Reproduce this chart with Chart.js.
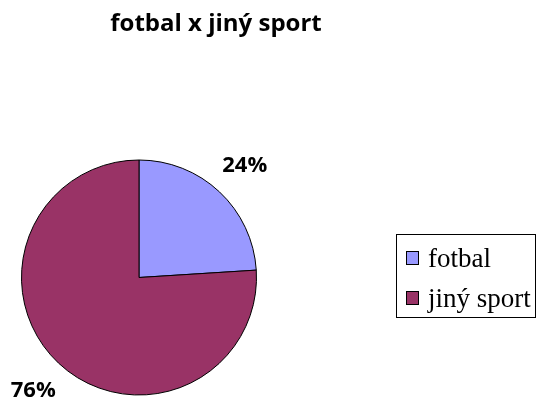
<!DOCTYPE html>
<html>
<head>
<meta charset="utf-8">
<script src="https://cdn.jsdelivr.net/npm/chart.js@4"></script>
<style>
  html, body { margin: 0; padding: 0; background: #fff; }
  #wrap { width: 536px; height: 405px; position: relative; }
</style>
</head>
<body>
<div id="wrap"><canvas id="pie" width="536" height="405"></canvas></div>
<script>
const chartTitle = "fotbal x jiný sport";
const labels = ["fotbal", "jiný sport"];
const values = [24, 76];
const colors = ["#9999FF", "#993366"];

// --- popisky procent + legenda + titulek ---
const decorPlugin = {
  id: "decor",
  afterDraw(chart) {
    const ctx = chart.ctx;
    const meta = chart.getDatasetMeta(0);
    const total = values.reduce((a, b) => a + b, 0);

    ctx.save();
    ctx.fillStyle = "#000";
    ctx.textAlign = "center";
    ctx.textBaseline = "alphabetic";
    ctx.font = "bold 24px 'Open Sans', sans-serif";
    ctx.fillText(chartTitle, 216, 31);

    ctx.font = "bold 22px 'Open Sans', sans-serif";
    ctx.textBaseline = "middle";
    meta.data.forEach((arc, i) => {
      const mid = (arc.startAngle + arc.endAngle) / 2;
      const r = arc.outerRadius + 37;
      const x = arc.x + Math.cos(mid) * r;
      const y = arc.y + Math.sin(mid) * r;
      ctx.fillText(Math.round(values[i] / total * 100) + "%", x, y + 1);
    });

    // legenda
    const lx = 396, ly = 234, lw = 139, lh = 83;
    ctx.strokeStyle = "#000";
    ctx.lineWidth = 1;
    ctx.strokeRect(lx + 0.5, ly + 0.5, lw, lh);
    ctx.font = "27px 'Liberation Serif', serif";
    ctx.textAlign = "left";
    ctx.textBaseline = "alphabetic";
    labels.forEach((l, i) => {
      const base = 267 + i * 40;
      ctx.fillStyle = colors[i];
      ctx.fillRect(lx + 10.5, base - 15.5, 12, 13);
      ctx.strokeRect(lx + 10.5, base - 15.5, 12, 13);
      ctx.fillStyle = "#000";
      ctx.fillText(l, lx + 32, base);
    });
    ctx.restore();
  }
};

new Chart(document.getElementById("pie"), {
  type: "pie",
  data: {
    labels: labels,
    datasets: [{
      data: values,
      backgroundColor: colors,
      borderColor: "#000",
      borderWidth: 1
    }]
  },
  options: {
    responsive: false,
    animation: false,
    layout: { padding: { left: 21, top: 159, right: 279, bottom: 9 } },
    plugins: {
      legend: { display: false },
      tooltip: { enabled: false }
    }
  },
  plugins: [decorPlugin]
});
</script>
</body>
</html>
